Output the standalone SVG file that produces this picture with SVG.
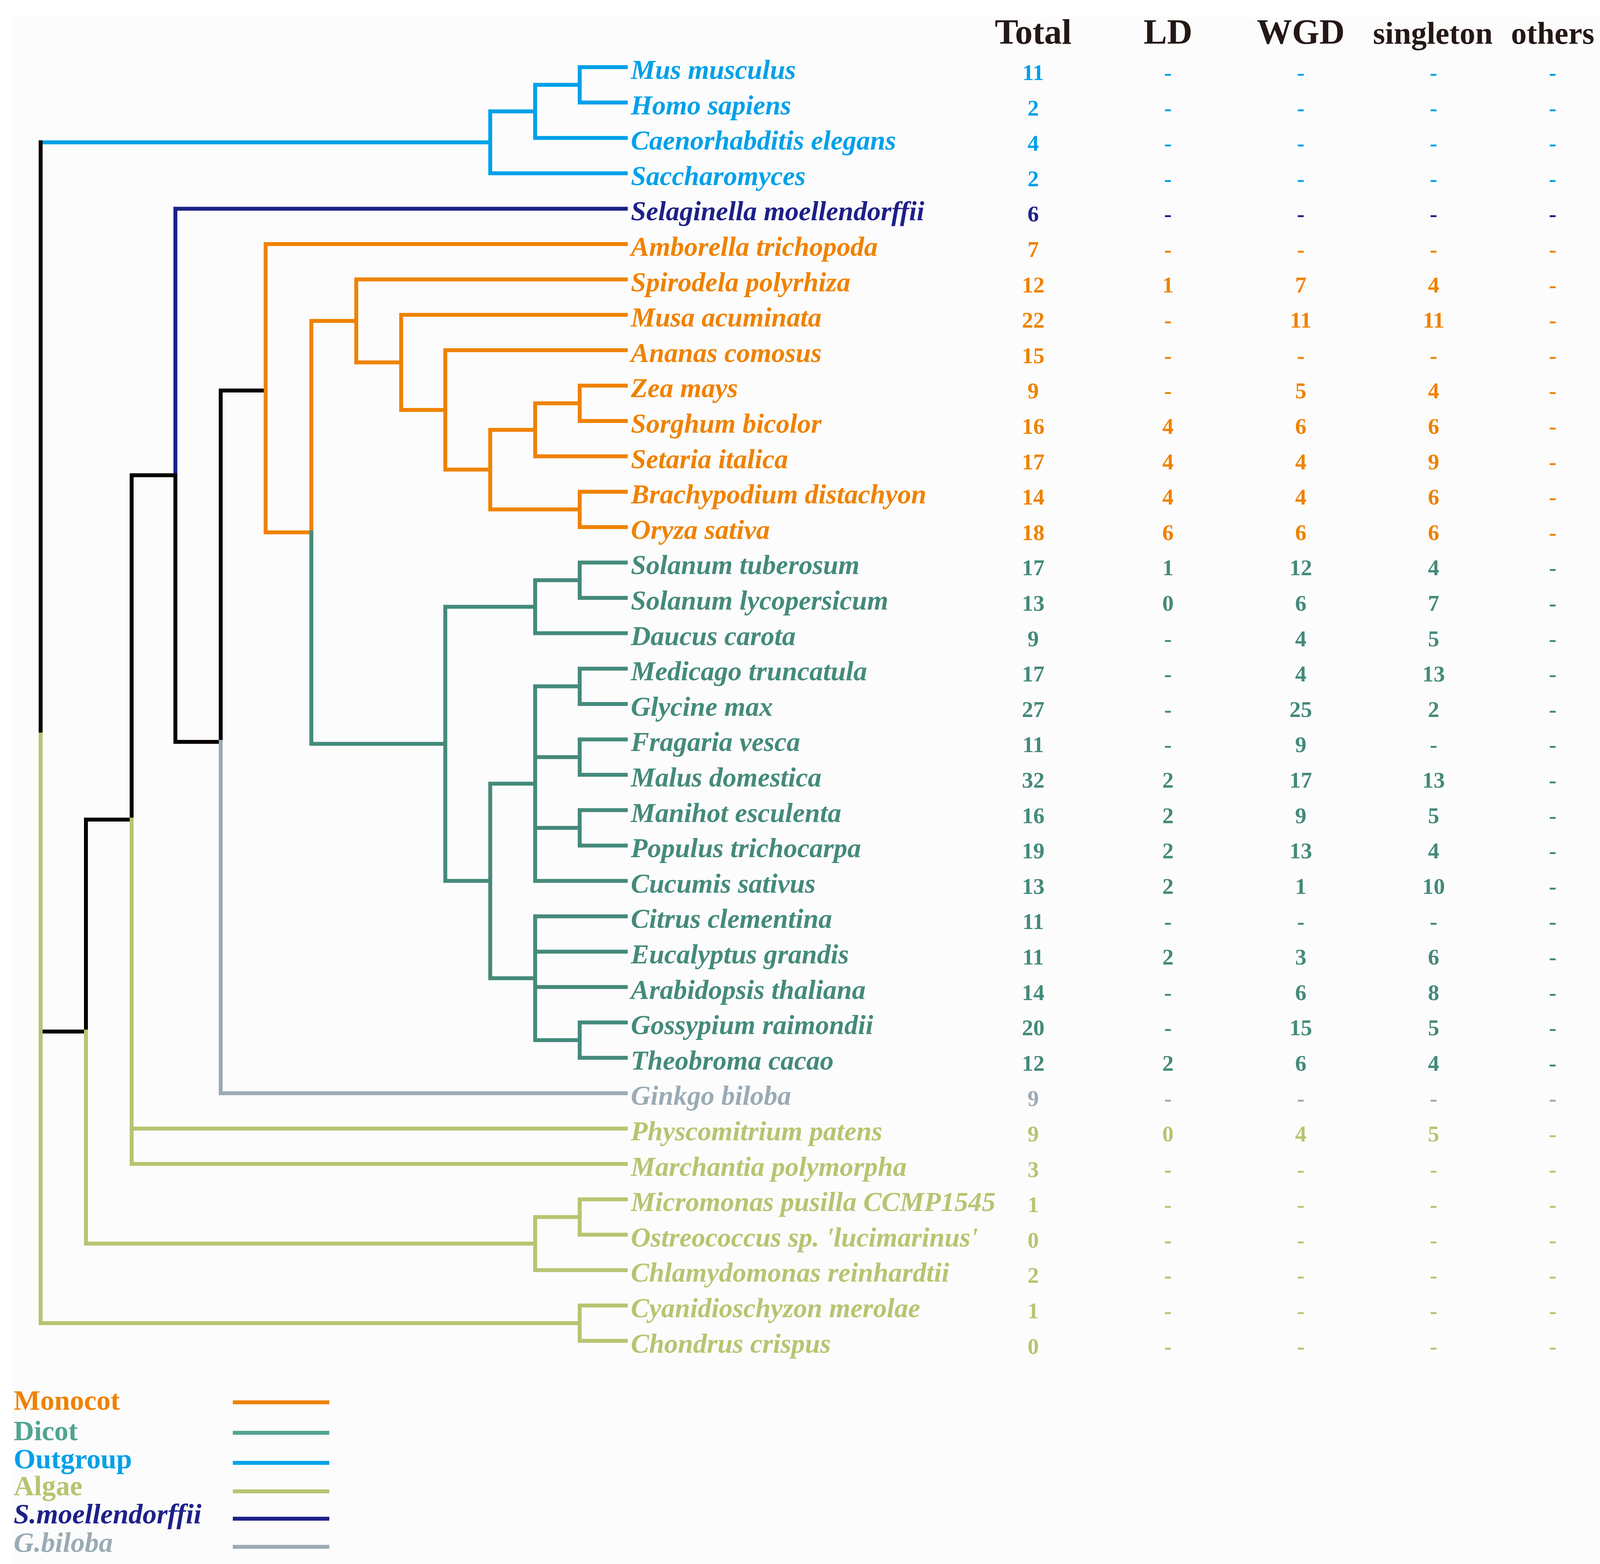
<svg xmlns="http://www.w3.org/2000/svg" width="4359" height="4005" viewBox="0 0 4359 4005">
<style>
text{font-family:"Liberation Serif","Times New Roman",serif;font-weight:bold}
.lb{font-style:italic;font-size:70px}
.nm{font-size:58px;text-anchor:middle}
.hd{font-size:90px;text-anchor:middle;fill:#231815}
.lg{font-size:72px}
.it{font-style:italic}
.out{fill:#00A0E9}.sel{fill:#1D2088}.mon{fill:#EF8200}.dic{fill:#448A7A}.gin{fill:#9AABB5}.alg{fill:#B7C471}
.e{fill:none;stroke-width:10;stroke-linecap:square}
.so{stroke:#00A0E9}.ss{stroke:#1D2088}.sm{stroke:#EF8200}.sd{stroke:#448A7A}.sg{stroke:#9AABB5}.sa{stroke:#B7C471}.sk{stroke:#060001}
.lgl{fill:none;stroke-width:10}
</style>
<rect width="4359" height="4005" fill="#FFFFFF"/>
<rect x="33" y="44" width="4326" height="3961" fill="#FCFCFC"/>

<g id="connectors">
<path class="e so" d="M104 364.5H1255M1255 285.3V443.8M1255 285.3H1370M1255 443.8H1602M1370 217.3V353.2M1370 217.3H1484M1370 353.2H1602M1484 172V262.6M1484 172H1602M1484 262.6H1602"/>
<path class="e ss" d="M449 534.4H1602M449 534.4V1217"/>
<path class="e sk" d="M104 364.5V1881M104 2641.6H220M220 2098.8V2641.6M220 2098.8H337M337 1217V2098.8M337 1217H449M449 1217V1899.7M449 1899.7H565M565 1000V1899.7M565 1000H680"/>
<path class="e sg" d="M565 1899.7V2799.4M565 2799.4H1602"/>
<path class="e sa" d="M104 1881V3388.3M104 3388.3H1484M1484 3343V3433.6M1484 3343H1602M1484 3433.6H1602M220 2641.6V3184.5M220 3184.5H1370M1370 3116.5V3252.4M1370 3116.5H1484M1370 3252.4H1602M1484 3071.2V3161.8M1484 3071.2H1602M1484 3161.8H1602M337 2098.8V2980.6M337 2890H1602M337 2980.6H1602"/>
<path class="e sm" d="M680 625V1363.3M680 625H1602M680 1363.3H797M797 821.8V1363.3M797 821.8H912M912 715.6V928M912 715.6H1602M912 928H1027M1027 806.2V1049.7M1027 806.2H1602M1027 1049.7H1140M1140 896.8V1202.6M1140 896.8H1602M1140 1202.6H1255M1255 1100.7V1304.5M1255 1100.7H1370M1255 1304.5H1484M1370 1032.7V1168.6M1370 1032.7H1484M1370 1168.6H1602M1484 987.4V1078M1484 987.4H1602M1484 1078H1602M1484 1259.2V1349.8M1484 1259.2H1602M1484 1349.8H1602"/>
<path class="e sd" d="M797 1363.3V1904.7M797 1904.7H1140M1140 1553.7V2255.8M1140 1553.7H1370M1370 1485.7V1621.6M1370 1485.7H1484M1370 1621.6H1602M1484 1440.4V1531M1484 1440.4H1602M1484 1531H1602M1140 2255.8H1255M1255 2006.7V2505M1255 2006.7H1370M1255 2505H1370M1370 1757.5V2255.8M1370 1757.5H1484M1370 1938.7H1484M1370 2119.9H1484M1370 2255.8H1602M1484 1712.2V1802.8M1484 1712.2H1602M1484 1802.8H1602M1484 1893.4V1984M1484 1893.4H1602M1484 1984H1602M1484 2074.6V2165.2M1484 2074.6H1602M1484 2165.2H1602M1370 2346.4V2663.5M1370 2346.4H1602M1370 2437H1602M1370 2527.6H1602M1370 2663.5H1484M1484 2618.2V2708.8M1484 2618.2H1602M1484 2708.8H1602"/>
</g>

<g id="header">
<text class="hd" x="2645" y="112">Total</text>
<text class="hd" x="2990" y="112">LD</text>
<text class="hd" x="3330" y="112">WGD</text>
<text class="hd" x="3668" y="112" style="font-size:80px">singleton</text>
<text class="hd" x="3975" y="112" style="font-size:80px">others</text>
</g>

<g id="node-mus-musculus" class="out" transform="translate(0,172)"><text class="lb" x="1615" y="30">Mus musculus</text><text class="nm" y="33"><tspan x="2645">11</tspan><tspan x="2990">-</tspan><tspan x="3330">-</tspan><tspan x="3670">-</tspan><tspan x="3975">-</tspan></text></g>
<g id="node-homo-sapiens" class="out" transform="translate(0,262.6)"><text class="lb" x="1615" y="30">Homo sapiens</text><text class="nm" y="33"><tspan x="2645">2</tspan><tspan x="2990">-</tspan><tspan x="3330">-</tspan><tspan x="3670">-</tspan><tspan x="3975">-</tspan></text></g>
<g id="node-caenorhabditis-elegans" class="out" transform="translate(0,353.2)"><text class="lb" x="1615" y="30">Caenorhabditis elegans</text><text class="nm" y="33"><tspan x="2645">4</tspan><tspan x="2990">-</tspan><tspan x="3330">-</tspan><tspan x="3670">-</tspan><tspan x="3975">-</tspan></text></g>
<g id="node-saccharomyces" class="out" transform="translate(0,443.8)"><text class="lb" x="1615" y="30">Saccharomyces</text><text class="nm" y="33"><tspan x="2645">2</tspan><tspan x="2990">-</tspan><tspan x="3330">-</tspan><tspan x="3670">-</tspan><tspan x="3975">-</tspan></text></g>
<g id="node-selaginella-moellendorffii" class="sel" transform="translate(0,534.4)"><text class="lb" x="1615" y="30">Selaginella moellendorffii</text><text class="nm" y="33"><tspan x="2645">6</tspan><tspan x="2990">-</tspan><tspan x="3330">-</tspan><tspan x="3670">-</tspan><tspan x="3975">-</tspan></text></g>
<g id="node-amborella-trichopoda" class="mon" transform="translate(0,625)"><text class="lb" x="1615" y="30">Amborella trichopoda</text><text class="nm" y="33"><tspan x="2645">7</tspan><tspan x="2990">-</tspan><tspan x="3330">-</tspan><tspan x="3670">-</tspan><tspan x="3975">-</tspan></text></g>
<g id="node-spirodela-polyrhiza" class="mon" transform="translate(0,715.6)"><text class="lb" x="1615" y="30">Spirodela polyrhiza</text><text class="nm" y="33"><tspan x="2645">12</tspan><tspan x="2990">1</tspan><tspan x="3330">7</tspan><tspan x="3670">4</tspan><tspan x="3975">-</tspan></text></g>
<g id="node-musa-acuminata" class="mon" transform="translate(0,806.2)"><text class="lb" x="1615" y="30">Musa acuminata</text><text class="nm" y="33"><tspan x="2645">22</tspan><tspan x="2990">-</tspan><tspan x="3330">11</tspan><tspan x="3670">11</tspan><tspan x="3975">-</tspan></text></g>
<g id="node-ananas-comosus" class="mon" transform="translate(0,896.8)"><text class="lb" x="1615" y="30">Ananas comosus</text><text class="nm" y="33"><tspan x="2645">15</tspan><tspan x="2990">-</tspan><tspan x="3330">-</tspan><tspan x="3670">-</tspan><tspan x="3975">-</tspan></text></g>
<g id="node-zea-mays" class="mon" transform="translate(0,987.4)"><text class="lb" x="1615" y="30">Zea mays</text><text class="nm" y="33"><tspan x="2645">9</tspan><tspan x="2990">-</tspan><tspan x="3330">5</tspan><tspan x="3670">4</tspan><tspan x="3975">-</tspan></text></g>
<g id="node-sorghum-bicolor" class="mon" transform="translate(0,1078)"><text class="lb" x="1615" y="30">Sorghum bicolor</text><text class="nm" y="33"><tspan x="2645">16</tspan><tspan x="2990">4</tspan><tspan x="3330">6</tspan><tspan x="3670">6</tspan><tspan x="3975">-</tspan></text></g>
<g id="node-setaria-italica" class="mon" transform="translate(0,1168.6)"><text class="lb" x="1615" y="30">Setaria italica</text><text class="nm" y="33"><tspan x="2645">17</tspan><tspan x="2990">4</tspan><tspan x="3330">4</tspan><tspan x="3670">9</tspan><tspan x="3975">-</tspan></text></g>
<g id="node-brachypodium-distachyon" class="mon" transform="translate(0,1259.2)"><text class="lb" x="1615" y="30">Brachypodium distachyon</text><text class="nm" y="33"><tspan x="2645">14</tspan><tspan x="2990">4</tspan><tspan x="3330">4</tspan><tspan x="3670">6</tspan><tspan x="3975">-</tspan></text></g>
<g id="node-oryza-sativa" class="mon" transform="translate(0,1349.8)"><text class="lb" x="1615" y="30">Oryza sativa</text><text class="nm" y="33"><tspan x="2645">18</tspan><tspan x="2990">6</tspan><tspan x="3330">6</tspan><tspan x="3670">6</tspan><tspan x="3975">-</tspan></text></g>
<g id="node-solanum-tuberosum" class="dic" transform="translate(0,1440.4)"><text class="lb" x="1615" y="30">Solanum tuberosum</text><text class="nm" y="33"><tspan x="2645">17</tspan><tspan x="2990">1</tspan><tspan x="3330">12</tspan><tspan x="3670">4</tspan><tspan x="3975">-</tspan></text></g>
<g id="node-solanum-lycopersicum" class="dic" transform="translate(0,1531)"><text class="lb" x="1615" y="30">Solanum lycopersicum</text><text class="nm" y="33"><tspan x="2645">13</tspan><tspan x="2990">0</tspan><tspan x="3330">6</tspan><tspan x="3670">7</tspan><tspan x="3975">-</tspan></text></g>
<g id="node-daucus-carota" class="dic" transform="translate(0,1621.6)"><text class="lb" x="1615" y="30">Daucus carota</text><text class="nm" y="33"><tspan x="2645">9</tspan><tspan x="2990">-</tspan><tspan x="3330">4</tspan><tspan x="3670">5</tspan><tspan x="3975">-</tspan></text></g>
<g id="node-medicago-truncatula" class="dic" transform="translate(0,1712.2)"><text class="lb" x="1615" y="30">Medicago truncatula</text><text class="nm" y="33"><tspan x="2645">17</tspan><tspan x="2990">-</tspan><tspan x="3330">4</tspan><tspan x="3670">13</tspan><tspan x="3975">-</tspan></text></g>
<g id="node-glycine-max" class="dic" transform="translate(0,1802.8)"><text class="lb" x="1615" y="30">Glycine max</text><text class="nm" y="33"><tspan x="2645">27</tspan><tspan x="2990">-</tspan><tspan x="3330">25</tspan><tspan x="3670">2</tspan><tspan x="3975">-</tspan></text></g>
<g id="node-fragaria-vesca" class="dic" transform="translate(0,1893.4)"><text class="lb" x="1615" y="30">Fragaria vesca</text><text class="nm" y="33"><tspan x="2645">11</tspan><tspan x="2990">-</tspan><tspan x="3330">9</tspan><tspan x="3670">-</tspan><tspan x="3975">-</tspan></text></g>
<g id="node-malus-domestica" class="dic" transform="translate(0,1984)"><text class="lb" x="1615" y="30">Malus domestica</text><text class="nm" y="33"><tspan x="2645">32</tspan><tspan x="2990">2</tspan><tspan x="3330">17</tspan><tspan x="3670">13</tspan><tspan x="3975">-</tspan></text></g>
<g id="node-manihot-esculenta" class="dic" transform="translate(0,2074.6)"><text class="lb" x="1615" y="30">Manihot esculenta</text><text class="nm" y="33"><tspan x="2645">16</tspan><tspan x="2990">2</tspan><tspan x="3330">9</tspan><tspan x="3670">5</tspan><tspan x="3975">-</tspan></text></g>
<g id="node-populus-trichocarpa" class="dic" transform="translate(0,2165.2)"><text class="lb" x="1615" y="30">Populus trichocarpa</text><text class="nm" y="33"><tspan x="2645">19</tspan><tspan x="2990">2</tspan><tspan x="3330">13</tspan><tspan x="3670">4</tspan><tspan x="3975">-</tspan></text></g>
<g id="node-cucumis-sativus" class="dic" transform="translate(0,2255.8)"><text class="lb" x="1615" y="30">Cucumis sativus</text><text class="nm" y="33"><tspan x="2645">13</tspan><tspan x="2990">2</tspan><tspan x="3330">1</tspan><tspan x="3670">10</tspan><tspan x="3975">-</tspan></text></g>
<g id="node-citrus-clementina" class="dic" transform="translate(0,2346.4)"><text class="lb" x="1615" y="30">Citrus clementina</text><text class="nm" y="33"><tspan x="2645">11</tspan><tspan x="2990">-</tspan><tspan x="3330">-</tspan><tspan x="3670">-</tspan><tspan x="3975">-</tspan></text></g>
<g id="node-eucalyptus-grandis" class="dic" transform="translate(0,2437)"><text class="lb" x="1615" y="30">Eucalyptus grandis</text><text class="nm" y="33"><tspan x="2645">11</tspan><tspan x="2990">2</tspan><tspan x="3330">3</tspan><tspan x="3670">6</tspan><tspan x="3975">-</tspan></text></g>
<g id="node-arabidopsis-thaliana" class="dic" transform="translate(0,2527.6)"><text class="lb" x="1615" y="30">Arabidopsis thaliana</text><text class="nm" y="33"><tspan x="2645">14</tspan><tspan x="2990">-</tspan><tspan x="3330">6</tspan><tspan x="3670">8</tspan><tspan x="3975">-</tspan></text></g>
<g id="node-gossypium-raimondii" class="dic" transform="translate(0,2618.2)"><text class="lb" x="1615" y="30">Gossypium raimondii</text><text class="nm" y="33"><tspan x="2645">20</tspan><tspan x="2990">-</tspan><tspan x="3330">15</tspan><tspan x="3670">5</tspan><tspan x="3975">-</tspan></text></g>
<g id="node-theobroma-cacao" class="dic" transform="translate(0,2708.8)"><text class="lb" x="1615" y="30">Theobroma cacao</text><text class="nm" y="33"><tspan x="2645">12</tspan><tspan x="2990">2</tspan><tspan x="3330">6</tspan><tspan x="3670">4</tspan><tspan x="3975">-</tspan></text></g>
<g id="node-ginkgo-biloba" class="gin" transform="translate(0,2799.4)"><text class="lb" x="1615" y="30">Ginkgo biloba</text><text class="nm" y="33"><tspan x="2645">9</tspan><tspan x="2990">-</tspan><tspan x="3330">-</tspan><tspan x="3670">-</tspan><tspan x="3975">-</tspan></text></g>
<g id="node-physcomitrium-patens" class="alg" transform="translate(0,2890)"><text class="lb" x="1615" y="30">Physcomitrium patens</text><text class="nm" y="33"><tspan x="2645">9</tspan><tspan x="2990">0</tspan><tspan x="3330">4</tspan><tspan x="3670">5</tspan><tspan x="3975">-</tspan></text></g>
<g id="node-marchantia-polymorpha" class="alg" transform="translate(0,2980.6)"><text class="lb" x="1615" y="30">Marchantia polymorpha</text><text class="nm" y="33"><tspan x="2645">3</tspan><tspan x="2990">-</tspan><tspan x="3330">-</tspan><tspan x="3670">-</tspan><tspan x="3975">-</tspan></text></g>
<g id="node-micromonas-pusilla" class="alg" transform="translate(0,3071.2)"><text class="lb" x="1615" y="30">Micromonas pusilla CCMP1545</text><text class="nm" y="33"><tspan x="2645">1</tspan><tspan x="2990">-</tspan><tspan x="3330">-</tspan><tspan x="3670">-</tspan><tspan x="3975">-</tspan></text></g>
<g id="node-ostreococcus" class="alg" transform="translate(0,3161.8)"><text class="lb" x="1615" y="30">Ostreococcus sp. 'lucimarinus'</text><text class="nm" y="33"><tspan x="2645">0</tspan><tspan x="2990">-</tspan><tspan x="3330">-</tspan><tspan x="3670">-</tspan><tspan x="3975">-</tspan></text></g>
<g id="node-chlamydomonas-reinhardtii" class="alg" transform="translate(0,3252.4)"><text class="lb" x="1615" y="30">Chlamydomonas reinhardtii</text><text class="nm" y="33"><tspan x="2645">2</tspan><tspan x="2990">-</tspan><tspan x="3330">-</tspan><tspan x="3670">-</tspan><tspan x="3975">-</tspan></text></g>
<g id="node-cyanidioschyzon-merolae" class="alg" transform="translate(0,3343)"><text class="lb" x="1615" y="30">Cyanidioschyzon merolae</text><text class="nm" y="33"><tspan x="2645">1</tspan><tspan x="2990">-</tspan><tspan x="3330">-</tspan><tspan x="3670">-</tspan><tspan x="3975">-</tspan></text></g>
<g id="node-chondrus-crispus" class="alg" transform="translate(0,3433.6)"><text class="lb" x="1615" y="30">Chondrus crispus</text><text class="nm" y="33"><tspan x="2645">0</tspan><tspan x="2990">-</tspan><tspan x="3330">-</tspan><tspan x="3670">-</tspan><tspan x="3975">-</tspan></text></g>

<g id="legend">
<text class="lg mon" x="35" y="3610">Monocot</text>
<text class="lg" x="35" y="3688" fill="#52A491">Dicot</text>
<text class="lg out" x="35" y="3760">Outgroup</text>
<text class="lg alg" x="35" y="3829">Algae</text>
<text class="lg it sel" x="35" y="3901">S.moellendorffii</text>
<text class="lg it gin" x="35" y="3974">G.biloba</text>
<path class="lgl" stroke="#EF8200" d="M596 3591H843"/>
<path class="lgl" stroke="#52A491" d="M596 3669H843"/>
<path class="lgl" stroke="#00A0E9" d="M596 3746H843"/>
<path class="lgl" stroke="#B7C471" d="M596 3819H843"/>
<path class="lgl" stroke="#1D2088" d="M596 3889H843"/>
<path class="lgl" stroke="#9AABB5" d="M596 3961H843"/>
</g>
</svg>
